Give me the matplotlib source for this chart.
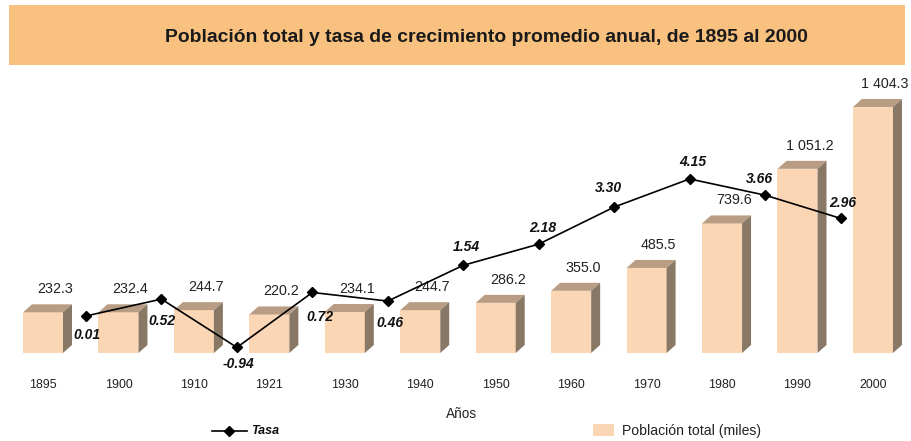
import matplotlib
matplotlib.use("Agg")
import matplotlib.pyplot as plt
from matplotlib.patches import Polygon, Rectangle
from matplotlib.lines import Line2D

years = ["1895", "1900", "1910", "1921", "1930", "1940", "1950", "1960", "1970", "1980", "1990", "2000"]
poblacion = [232.3, 232.4, 244.7, 220.2, 234.1, 244.7, 286.2, 355.0, 485.5, 739.6, 1051.2, 1404.3]
poblacion_lbl = ["232.3", "232.4", "244.7", "220.2", "234.1", "244.7", "286.2", "355.0", "485.5", "739.6", "1 051.2", "1 404.3"]
tasa = [0.01, 0.52, -0.94, 0.72, 0.46, 1.54, 2.18, 3.30, 4.15, 3.66, 2.96]
tasa_lbl = ["0.01", "0.52", "-0.94", "0.72", "0.46", "1.54", "2.18", "3.30", "4.15", "3.66", "2.96"]

FONT = "Liberation Sans"
W, H = 912, 441
fig = plt.figure(figsize=(W / 100, H / 100), dpi=100)
fig.patch.set_facecolor("white")

# banner
fig.patches.append(Rectangle((9 / W, 1 - 65 / H), 896 / W, 60 / H, transform=fig.transFigure,
                             facecolor="#F9C17F", edgecolor="none", zorder=0))
title = fig.text(0.5 * (163 + 810) / W, 1 - 37 / H,
                 "Población total y tasa de crecimiento promedio anual, de 1895 al 2000",
                 ha="center", va="center", fontsize=11, fontweight="bold", family=FONT, color="#1a1a1a")

# axes geometry (pixels)
spacing = 75.45
x0 = 43.0
base_y = 353.0
ppu = 0.1752
ax_bottom = (H - base_y) / H
ax_h_px = 280.0
ax = fig.add_axes([0, ax_bottom, 1, ax_h_px / H])
ax.set_xlim((0 - x0) / spacing, (W - x0) / spacing)
ax.set_ylim(0, ax_h_px / ppu)
ax.axis("off")

n = len(years)
xs = list(range(n))
bw = 40 / spacing
dx = 9 / spacing
dy = 8 / ppu
front_c = "#FAD6B4"
top_c = "#B89D84"
side_c = "#8A7866"
ax.bar(xs, poblacion, width=bw, color=front_c, edgecolor="none", zorder=2)
for i, v in enumerate(poblacion):
    l, r = i - bw / 2, i + bw / 2
    ax.add_patch(Polygon([(l, v), (r, v), (r + dx, v + dy), (l + dx, v + dy)],
                         closed=True, facecolor=top_c, edgecolor="none", zorder=2))
    ax.add_patch(Polygon([(r, 0), (r + dx, dy), (r + dx, v + dy), (r, v)],
                         closed=True, facecolor=side_c, edgecolor="none", zorder=2))
    ax.annotate(poblacion_lbl[i], (i, v), xytext=(12, 23), textcoords="offset pixels",
                ha="center", va="center", fontsize=10.3, family=FONT, color="#222222", zorder=3)

# x tick labels
for i, y in enumerate(years):
    fig.text((x0 + spacing * i) / W, 1 - 385 / H, y, ha="center", va="center",
             fontsize=8.9, family=FONT, color="#222222")
fig.text(462 / W, 1 - 414 / H, "Años", ha="center", va="center", fontsize=9.8,
         family=FONT, color="#222222")

# tasa line on secondary axis
ax2 = ax.twinx()
zero_px = 316.3
tppu = 33.1
ax2.set_ylim(-(base_y - zero_px) / tppu, (zero_px - (base_y - ax_h_px)) / tppu)
ax2.set_xlim(ax.get_xlim())
ax2.axis("off")
tx = [i + 0.57 for i in range(len(tasa))]
ax2.plot(tx, tasa, color="black", lw=1.2, marker="D", ms=5.5, zorder=5)
label_offsets = [(1, -19), (1, -22), (2, -17), (8, -25), (2, -22),
                 (3, 18), (4, 16), (-6, 19), (3, 17), (-6, 16), (2, 15)]
for i, (x, v) in enumerate(zip(tx, tasa)):
    ax2.annotate(tasa_lbl[i], (x, v), xytext=label_offsets[i], textcoords="offset pixels",
                 ha="center", va="center", fontsize=10, fontweight="bold", fontstyle="italic",
                 family=FONT, color="#111111")

# legend
fig.lines.append(Line2D([212 / W, 247 / W], [1 - 431 / H] * 2, transform=fig.transFigure,
                        color="black", lw=1.2))
fig.lines.append(Line2D([229 / W], [1 - 431 / H], transform=fig.transFigure, color="black",
                        marker="D", ms=5.5, lw=0))
fig.text(251 / W, 1 - 431 / H, "Tasa", ha="left", va="center", fontsize=9,
         fontweight="bold", fontstyle="italic", family=FONT, color="#111111")
fig.patches.append(Rectangle((593 / W, 1 - 436 / H), 21 / W, 12 / H, transform=fig.transFigure,
                             facecolor=front_c, edgecolor="none"))
fig.text(622 / W, 1 - 431 / H, "Población total (miles)", ha="left", va="center",
         fontsize=10.1, family=FONT, color="#222222")

# fit title width to ~647 px
fig.canvas.draw()
bb = title.get_window_extent()
title.set_fontsize(11 * 647 / bb.width)

fig.savefig("out.png", dpi=100)
